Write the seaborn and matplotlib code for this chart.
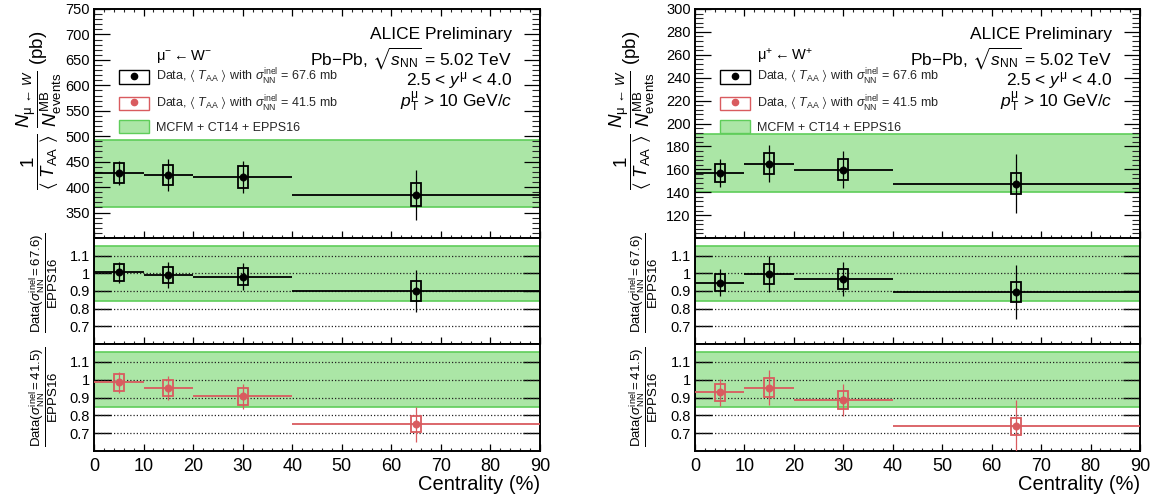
import numpy as np
import pandas as pd
import matplotlib
matplotlib.use("Agg")
import matplotlib.pyplot as plt
from matplotlib.ticker import MultipleLocator, FixedLocator, FormatStrFormatter
from matplotlib.patches import Patch
from matplotlib.lines import Line2D
import seaborn as sns

# centrality classes (%)
cent_mid = [5, 15, 30, 65]
cent_low = [0, 10, 20, 40]
cent_high = [10, 20, 40, 90]

# mu- <- W-  : normalised yields (pb)
wm_yield = [428, 424, 420, 385]
wm_yield_stat = [23, 32, 32, 49]
wm_yield_syst = [20, 20, 21.5, 23]
wm_model = [360, 492]
# ratio to EPPS16, sigma_NN^inel = 67.6 mb
wm_r676 = [1.005, 0.990, 0.982, 0.900]
wm_r676_stat = [0.057, 0.075, 0.075, 0.117]
wm_r676_syst = [0.048, 0.046, 0.050, 0.055]
# ratio to EPPS16, sigma_NN^inel = 41.5 mb
wm_r415 = [0.985, 0.953, 0.906, 0.750]
wm_r415_stat = [0.058, 0.069, 0.070, 0.097]
wm_r415_syst = [0.049, 0.046, 0.049, 0.046]

# mu+ <- W+
wp_yield = [156.7, 165.0, 159.8, 147.4]
wp_yield_stat = [12.4, 16.3, 16.2, 26.0]
wp_yield_syst = [7.8, 9.1, 9.1, 9.3]
wp_model = [140, 191]
wp_r676 = [0.946, 0.996, 0.967, 0.892]
wp_r676_stat = [0.077, 0.100, 0.098, 0.153]
wp_r676_syst = [0.048, 0.055, 0.057, 0.057]
wp_r415 = [0.929, 0.955, 0.887, 0.739]
wp_r415_stat = [0.077, 0.098, 0.090, 0.145]
wp_r415_syst = [0.048, 0.053, 0.050, 0.048]

ratio_model = [0.845, 1.155]
ratio_lines = [0.7, 0.8, 0.9, 1.0, 1.1]
x_ticks = [0, 10, 20, 30, 40, 50, 60, 70, 80, 90]

BLACK = "#000000"
RED = "#d95b5f"
GREEN_FILL = "#abe6a6"
GREEN_EDGE = "#5fcd5a"

sns.set_theme(style="ticks")
plt.rcParams["font.family"] = ["Liberation Sans", "DejaVu Sans"]
plt.rcParams["mathtext.fontset"] = "custom"
plt.rcParams["mathtext.rm"] = "Liberation Sans"
plt.rcParams["mathtext.it"] = "Liberation Sans:italic"
plt.rcParams["mathtext.bf"] = "Liberation Sans:bold"
plt.rcParams["mathtext.sf"] = "Liberation Sans"
plt.rcParams["mathtext.fallback"] = "stixsans"
plt.rcParams["axes.linewidth"] = 1.4
plt.rcParams["axes.edgecolor"] = "black"

fig = plt.figure(figsize=(11.54, 4.97), dpi=100)
W, H = 1154.0, 497.0


def add_axes(x0, x1, ytop, ybot):
    return fig.add_axes([x0 / W, 1 - ybot / H, (x1 - x0) / W, (ybot - ytop) / H])


def draw_points(ax, y, stat, syst, color):
    mid = np.array(cent_mid, float)
    y = np.array(y, float)
    stat = np.array(stat, float)
    syst = np.array(syst, float)
    xerr = [mid - np.array(cent_low), np.array(cent_high) - mid]
    ax.errorbar(mid, y, xerr=xerr, fmt="none", ecolor=color, elinewidth=1.3,
                capsize=0, zorder=3)
    ax.errorbar(mid, y, yerr=stat, fmt="none", ecolor=color, elinewidth=0.9,
                capsize=0, zorder=3)
    ax.bar(mid, 2 * syst, bottom=y - syst, width=2.0, fill=False,
           edgecolor=color, linewidth=1.3, zorder=4)
    df = pd.DataFrame({"centrality": mid, "value": y})
    sns.scatterplot(data=df, x="centrality", y="value", ax=ax, color=color,
                    edgecolor=color, s=28, zorder=5, legend=False)
    ax.set_xlabel("")
    ax.set_ylabel("")


def style_x(ax, labels, top):
    ax.set_xlim(0, 90)
    ax.xaxis.set_major_locator(FixedLocator(x_ticks))
    ax.xaxis.set_minor_locator(MultipleLocator(2))
    ax.tick_params(axis="x", which="major", direction="in", length=5, width=0.9,
                   top=top, bottom=True, labelbottom=labels, labelsize=13, pad=5,
                   colors="black")
    ax.tick_params(axis="x", which="minor", direction="in", length=2.5, width=0.8,
                   top=top, bottom=True)


def draw_top(ax, y, stat, syst, model, ylim, yticks, minor):
    ax.axhspan(model[0], model[1], facecolor=GREEN_FILL, edgecolor=GREEN_EDGE,
               linewidth=1.2, zorder=0.5)
    draw_points(ax, y, stat, syst, BLACK)
    ax.set_ylim(*ylim)
    ax.yaxis.set_major_locator(FixedLocator(yticks))
    ax.yaxis.set_minor_locator(MultipleLocator(minor))
    ax.tick_params(axis="y", which="major", direction="in", length=11.5, width=0.9,
                   left=True, right=True, labelsize=10.5, pad=3, colors="black")
    ax.tick_params(axis="y", which="minor", direction="in", length=5.5, width=0.8,
                   left=True, right=True)
    style_x(ax, False, True)


def draw_ratio(ax, y, stat, syst, color, labels):
    ax.axhspan(ratio_model[0], ratio_model[1], facecolor=GREEN_FILL,
               edgecolor=GREEN_EDGE, linewidth=1.2, zorder=0.5)
    for v in ratio_lines:
        ax.axhline(v, color="#222222", linestyle=(0, (1, 1.6)), linewidth=0.9,
                   zorder=1)
    draw_points(ax, y, stat, syst, color)
    ax.set_ylim(0.6, 1.2)
    ax.yaxis.set_major_locator(FixedLocator(ratio_lines))
    ax.yaxis.set_major_formatter(FormatStrFormatter("%g"))
    ax.tick_params(axis="y", which="major", direction="in", length=12, width=1.0,
                   left=True, right=True, labelsize=10.5, pad=3, colors="black")
    ax.tick_params(axis="y", which="minor", left=False, right=False)
    style_x(ax, labels, False)


panels = [
    dict(x0=94, x1=540, model=wm_model, y=wm_yield, stat=wm_yield_stat, syst=wm_yield_syst,
         ylim=(300, 750), yticks=list(range(350, 751, 50)), minor=10,
         r676=(wm_r676, wm_r676_stat, wm_r676_syst),
         r415=(wm_r415, wm_r415_stat, wm_r415_syst),
         header=r"$\mathrm{μ}^{-}\leftarrow\mathrm{W}^{-}$", ylab_x=39, rlab_x=44),
    dict(x0=695, x1=1140, model=wp_model, y=wp_yield, stat=wp_yield_stat, syst=wp_yield_syst,
         ylim=(100, 300), yticks=list(range(120, 301, 20)), minor=4,
         r676=(wp_r676, wp_r676_stat, wp_r676_syst),
         r415=(wp_r415, wp_r415_stat, wp_r415_syst),
         header=r"$\mathrm{μ}^{+}\leftarrow\mathrm{W}^{+}$", ylab_x=632, rlab_x=644),
]

yield_label = (r"$\dfrac{1}{\langle\ T_{\mathrm{AA}}\ \rangle}\ "
               r"\dfrac{N_{\mathrm{μ}\,\leftarrow\,W}}{N_{\mathrm{events}}^{\mathrm{MB}}}\ \mathrm{(pb)}$")
ratio_label = r"$\dfrac{\mathrm{Data}(\sigma_{\mathrm{NN}}^{\mathrm{inel}} = %s)}{\mathrm{EPPS16}}$"
leg_labels = [
    r"Data, $\langle\ T_{\mathrm{AA}}\ \rangle$ with $\sigma_{\mathrm{NN}}^{\mathrm{inel}}$ = 67.6 mb",
    r"Data, $\langle\ T_{\mathrm{AA}}\ \rangle$ with $\sigma_{\mathrm{NN}}^{\mathrm{inel}}$ = 41.5 mb",
    "MCFM + CT14 + EPPS16",
]
info_lines = [
    "ALICE Preliminary",
    r"Pb$-$Pb, $\sqrt{s_{\mathrm{NN}}}$ = 5.02 TeV",
    r"2.5 < $y^{\mathrm{μ}}$ < 4.0",
    r"$p_{\mathrm{T}}^{\mathrm{μ}}$ > 10 GeV/$c$",
]
info_y = [0.888, 0.787, 0.689, 0.595]

for p in panels:
    ax_top = add_axes(p["x0"], p["x1"], 9, 238)
    ax_mid = add_axes(p["x0"], p["x1"], 238, 344)
    ax_bot = add_axes(p["x0"], p["x1"], 344, 451)

    draw_top(ax_top, p["y"], p["stat"], p["syst"], p["model"], p["ylim"],
             p["yticks"], p["minor"])
    draw_ratio(ax_mid, *p["r676"], BLACK, False)
    draw_ratio(ax_bot, *p["r415"], RED, True)
    ax_bot.set_xlabel("Centrality (%)", fontsize=14.5, loc="right", labelpad=0,
                      color="black")

    for txt, yy in zip(info_lines, info_y):
        ax_top.text(0.937, yy, txt, transform=ax_top.transAxes, ha="right",
                    va="center", fontsize=12.5, color="black")
    ax_top.text(0.139, 0.793, p["header"], transform=ax_top.transAxes,
                ha="left", va="center", fontsize=10.5, color="black")

    handles = [
        (Patch(facecolor="none", edgecolor=BLACK, linewidth=1.0),
         Line2D([], [], marker="o", linestyle="none", color=BLACK, markersize=4.5)),
        (Patch(facecolor="none", edgecolor=RED, linewidth=1.0),
         Line2D([], [], marker="o", linestyle="none", color=RED, markersize=4.5)),
        Patch(facecolor=GREEN_FILL, edgecolor=GREEN_EDGE, linewidth=1.0),
    ]
    ax_top.legend(handles, leg_labels, loc="upper left", bbox_to_anchor=(0.056, 0.745),
                  frameon=False, fontsize=9, handlelength=2.4, handleheight=1.25,
                  handletextpad=0.55, labelspacing=0.5, borderpad=0, borderaxespad=0)

    fig.text(p["ylab_x"] / W, 1 - 110 / H, yield_label, rotation=90, ha="center",
             va="center", fontsize=13.5, color="black")
    fig.text(p["rlab_x"] / W, 1 - 283 / H, ratio_label % "67.6", rotation=90,
             ha="center", va="center", fontsize=9.5, color="black")
    fig.text(p["rlab_x"] / W, 1 - 397 / H, ratio_label % "41.5", rotation=90,
             ha="center", va="center", fontsize=9.5, color="black")

fig.savefig("out.png", dpi=100)
